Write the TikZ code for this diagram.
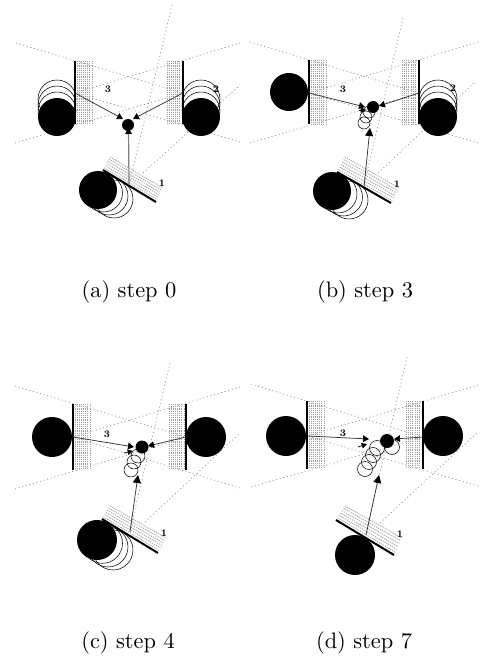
\documentclass[tikz,border=0pt]{standalone}
\usetikzlibrary{arrows.meta,calc}
\tikzset{
  px/.style={x=0.75pt,y=-0.75pt},
  bar/.style={line width=1.5pt,black},
  ray/.style={gray!85,line width=0.55pt,dash pattern=on 0.8pt off 2pt},
  band/.style={gray!75,line width=0.6pt,dash pattern=on 0.9pt off 0.75pt},
  ghost/.style={black,line width=0.4pt},
  wheel/.style={fill=black},
  force/.style={black!80,line width=0.55pt,-{Triangle[length=4.5pt,width=5pt,black]}},
  forcelong/.style={black!80,line width=0.55pt,-{Triangle[length=6pt,width=6pt,black]}},
  forcegray/.style={black!50,line width=0.9pt,-{Triangle[length=4.5pt,width=5pt,black]}},
  stub/.style={black,line width=0.5pt,-{Triangle[length=4pt,width=4pt,black]}},
  num/.style={font=\fontsize{7.5}{9}\selectfont\bfseries,inner sep=0pt},
  captext/.style={font=\fontsize{10}{12}\selectfont,inner sep=0pt,scale=1.68}
}
% vertical dotted strip: x0 x1 y0 y1
\newcommand{\vstrip}[4]{%
  \foreach \xx in {0,1,...,7}{%
    \draw[band] ($(#1,#3)!\xx/7!(#2,#3)$) -- ($(#1,#4)!\xx/7!(#2,#4)$);}}
% wall with slanted strip: W1, W2, corner above W1, corner above W2
\newcommand{\sstrip}[4]{%
  \foreach \kk in {1,2,...,6}{%
    \draw[band] ($(#1)!\kk/6!(#3)$) -- ($(#2)!\kk/6!(#4)$);}
  \draw[bar] (#1) -- (#2);}
\newcommand{\ghosts}[2]{\foreach \gx/\gy in {#2}{\draw[ghost] (\gx,\gy) circle (#1);}}
\newcommand{\rays}[1]{\foreach \ax/\ay/\bx/\by in {#1}{\draw[ray] (\ax,\ay) -- (\bx,\by);}}
\begin{document}
\begin{tikzpicture}[px]
\useasboundingbox (0,0) rectangle (479,659);
% ---------- panel a
\rays{16/43/183/93, 15/143/183/93, 240/43/75/93, 240/142/75/93, 172/5/129/185, 143/173/240/85}
\vstrip{77}{92}{61}{124}
\vstrip{167}{182}{61}{124}
\draw[bar] (75,61) -- (75,124);
\draw[bar] (183,61) -- (183,124);
\sstrip{103,170}{156,202}{110,157}{163,188}
\ghosts{19}{57/99,57/105,57/111}
\ghosts{19}{201/99,201/105,201/111}
\ghosts{19}{103.5/193,109/196,114/199}
\fill[wheel] (57,117) circle (19);
\fill[wheel] (201,117) circle (19);
\fill[wheel] (98,190) circle (19);
\fill[wheel] (128,125) circle (6);
\draw[force] (75,93) -- (123,119);
\draw[force] (183,93) -- (133,119);
\draw[forcegray] (129,185) -- (128.5,128);
\node[num] (a3) at (108,89) {3};
\node[num] (a2) at (216,89) {2};
\node[num] (a1) at (162,183) {1};
\node[captext] (acap) at (129,292) {(a) step 0};
% ---------- panel b
\rays{250/42/419/93, 250/143/419/93, 478/42/309/93, 478/143/309/93, 403/18/364/185, 378/173/474/83}
\vstrip{311}{326}{60}{124}
\vstrip{402}{418}{60}{124}
\draw[bar] (309,60) -- (309,124);
\draw[bar] (419,60) -- (419,124);
\sstrip{337,172}{391,203}{345,157}{399,188}
\ghosts{19}{438/99,438/105,438/111}
\ghosts{19}{338/194,343.5/197,349/200}
\ghosts{6}{364/123,366/117,369/112}
\fill[wheel] (289,92) circle (19);
\fill[wheel] (438,117) circle (19);
\fill[wheel] (332,191) circle (19);
\fill[wheel] (373,107) circle (6);
\draw[force] (309,93) -- (365,107);
\draw[force] (419,93) -- (379,106);
\draw[forcelong] (364,187) -- (370,128);
\draw[stub] (359,110) -- (366,110);
\node[num] (b3) at (343,89) {3};
\node[num] (b2) at (453,88) {2};
\node[num] (b1) at (397,184) {1};
\node[captext] (bcap) at (365,292) {(b) step 3};
% ---------- panel c
\rays{15/386/186/437, 15/489/186/437, 240/387/73/437, 240/488/73/437, 170/363/130/530, 145/522/240/433}
\vstrip{75}{90}{404}{470}
\vstrip{169}{184}{404}{470}
\draw[bar] (73,404) -- (73,470);
\draw[bar] (186,404) -- (186,470);
\sstrip{102,519}{158,553}{110,506}{166,538}
\ghosts{20}{102.5/543.3,108/547,113/550}
\ghosts{7}{131/470,134/462,138/456}
\fill[wheel] (52,437) circle (20);
\fill[wheel] (206,437) circle (20);
\fill[wheel] (97,540) circle (20);
\fill[wheel] (142,447) circle (6.5);
\draw[force] (73,437) -- (134,447);
\draw[force] (186,437) -- (148,446);
\draw[forcelong] (130,532) -- (138,475);
\draw[stub] (124,453) -- (133,451);
\node[num] (c3) at (107,434) {3};
\node[num] (c1) at (164,533) {1};
\node[captext] (ccap) at (128,643) {(c) step 4};
% ---------- panel d
\rays{251/384/423/437, 251/487/423/437, 478/385/307/436, 478/486/307/436, 407/357/366/533, 380/523/478/432}
\vstrip{309}{324}{401}{469}
\vstrip{406}{422}{401}{469}
\draw[bar] (307,401) -- (307,469);
\draw[bar] (423,401) -- (423,469);
\sstrip{336,520}{394,555}{345,506}{402,538}
\ghosts{7.5}{365/469,369/462,373/455,377/448,392/447}
\fill[wheel] (286,436) circle (20);
\fill[wheel] (443,436) circle (20);
\fill[wheel] (355,555) circle (20);
\fill[wheel] (387,441) circle (7);
\draw[force] (308,436) -- (369,439);
\draw[force] (423,437) -- (394,439);
\draw[forcelong] (366,535) -- (379,475);
\draw[stub] (358,447) -- (367,444);
\node[num] (d3) at (343,433) {3};
\node[num] (d1) at (400,534) {1};
\node[captext] (dcap) at (364,643) {(d) step 7};
\end{tikzpicture}
\end{document}
